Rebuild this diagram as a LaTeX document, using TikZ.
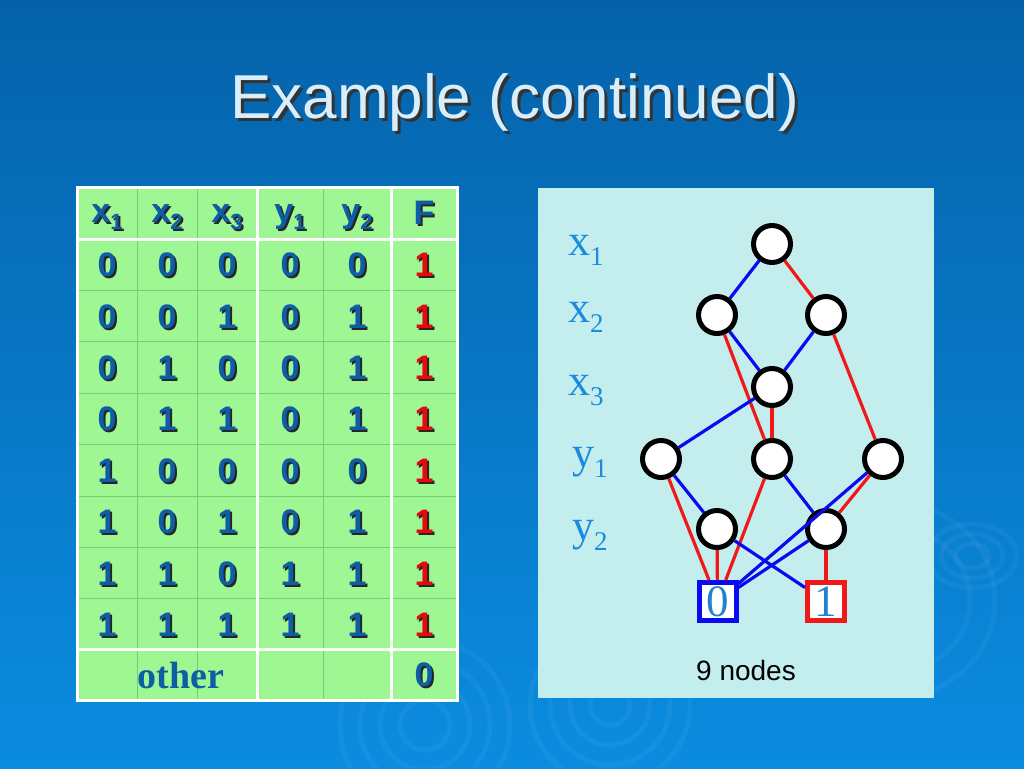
\documentclass[tikz,border=0pt]{standalone}
\usepackage{fontspec}
\setmainfont{Liberation Serif}
\newfontfamily\arialf{Liberation Sans}
\definecolor{bgtop}{HTML}{0562AA}
\definecolor{bgbot}{HTML}{0B8CE0}
\definecolor{tabgreen}{HTML}{9EF792}
\definecolor{gridgreen}{HTML}{74CC78}
\definecolor{tabblue}{HTML}{0E5EA6}
\definecolor{tabred}{HTML}{E80A0A}
\definecolor{panelcyan}{HTML}{C4EEEE}
\definecolor{lblblue}{HTML}{1A8CE0}
\definecolor{termtext}{HTML}{2282D2}
\definecolor{edgeblue}{HTML}{0A0AF0}
\definecolor{edgered}{HTML}{F01818}
\definecolor{titlecol}{HTML}{D8EEFA}
\tikzset{
  tabtext/.style={font=\arialf\bfseries\fontsize{34}{34}\selectfont, inner sep=0pt},
  bddnode/.style={circle, draw=black, line width=5pt, fill=white, minimum size=37pt, inner sep=0pt},
  termbox/.style={rectangle, line width=5pt, fill=white, minimum width=37pt, minimum height=38pt, inner sep=0pt, text=termtext, font=\fontsize{45}{45}\selectfont},
  lvl/.style={anchor=base west, inner sep=0pt, text=lblblue, font=\fontsize{44}{44}\selectfont},
  lo/.style={draw=edgeblue, line width=3.2pt},
  hi/.style={draw=edgered, line width=3.2pt},
  ripple/.style={draw=white, opacity=0.045, line width=5pt}
}
\newcommand\shcell[5]{%
  \node[tabtext, text=#4] (#1) at (#2,#3) {\rlap{\hspace{2pt}\raisebox{-2pt}{\color{black!85}#5}}#5};}
\newcommand\hsub[1]{\raisebox{-7pt}{\fontsize{22}{22}\selectfont #1}}
\begin{document}
\begin{tikzpicture}[x=1pt,y=-1pt]
\useasboundingbox (0,0) rectangle (1024,768);
\shade[top color=bgtop, bottom color=bgbot] (0,0) rectangle (1024,768);
% ripples
\foreach \r in {25,45,65,85} \draw[ripple] (425,725) circle (\r);
\foreach \r in {20,40,60,80} \draw[ripple] (610,705) circle (\r);
\foreach \r in {12,22,32} \draw[ripple] (972,556) ellipse ({\r*1.4} and \r);
\foreach \r in {70,95} \draw[ripple] (900,600) circle (\r);
% title
\node[anchor=base west, inner sep=0pt, text=titlecol, font=\arialf\fontsize{62}{62}\selectfont] (title) at (230,118) {\rlap{\hspace{3pt}\raisebox{-3pt}{\color{black!80}Example (continued)}}Example (continued)};
% table
\fill[tabgreen] (77,187) rectangle (457,700);
\foreach \xx in {137,197,323} \draw[gridgreen, line width=1pt] (\xx,187) -- (\xx,700);
\foreach \yy in {290.4,341.8,393.2,444.6,496,547.4,598.8} \draw[gridgreen, line width=1pt] (77,\yy) -- (457,\yy);
\foreach \xx in {257,391} \draw[white, line width=3pt] (\xx,187) -- (\xx,700);
\foreach \yy in {239,649} \draw[white, line width=3pt] (77,\yy) -- (457,\yy);
\draw[white, line width=3pt] (77,187) rectangle (457,700);
% header
\shcell{h1}{107}{218}{tabblue}{x\hsub{1}}
\shcell{h2}{167}{218}{tabblue}{x\hsub{2}}
\shcell{h3}{227}{218}{tabblue}{x\hsub{3}}
\shcell{h4}{290}{218}{tabblue}{y\hsub{1}}
\shcell{h5}{357}{218}{tabblue}{y\hsub{2}}
\shcell{h6}{424}{214}{tabblue}{F}
% body
\foreach \row [count=\i] in {{0,0,0,0,0},{0,0,1,0,1},{0,1,0,0,1},{0,1,1,0,1},{1,0,0,0,0},{1,0,1,0,1},{1,1,0,1,1},{1,1,1,1,1}}{
  \pgfmathsetmacro\cy{266+(\i-1)*51.4}
  \foreach \v [count=\j] in \row {
    \pgfmathsetmacro\cx{{107,167,227,290,357}[\j-1]}
    \shcell{c\i\j}{\cx}{\cy}{tabblue}{\v}
  }
  \shcell{f\i}{424}{\cy}{tabred}{1}
}
\node[anchor=base, inner sep=0pt, text=tabblue, font=\bfseries\fontsize{38}{38}\selectfont] (other) at (181,688) {other};
\shcell{f9}{424}{676}{tabblue}{0}
% BDD panel
\fill[panelcyan] (538,188) rectangle (934,698);
\node[lvl] (lx1) at (568,255) {x\raisebox{-10pt}{\fontsize{27}{27}\selectfont 1}};
\node[lvl] (lx2) at (568,322) {x\raisebox{-10pt}{\fontsize{27}{27}\selectfont 2}};
\node[lvl] (lx3) at (568,395) {x\raisebox{-10pt}{\fontsize{27}{27}\selectfont 3}};
\node[lvl] (ly1) at (572,467) {y\raisebox{-10pt}{\fontsize{27}{27}\selectfont 1}};
\node[lvl] (ly2) at (572,540) {y\raisebox{-10pt}{\fontsize{27}{27}\selectfont 2}};
\node[bddnode] (a) at (772,244) {};
\node[bddnode] (b1) at (717,315) {};
\node[bddnode] (b2) at (826,315) {};
\node[bddnode] (c) at (772,387) {};
\node[bddnode] (d1) at (661,459) {};
\node[bddnode] (d2) at (772,459) {};
\node[bddnode] (d3) at (883,459) {};
\node[bddnode] (e1) at (717,529) {};
\node[bddnode] (e2) at (826,529) {};
\node[termbox, draw=edgeblue] (t0) at (717.5,601.5) {0};
\node[termbox, draw=edgered] (t1) at (826,601.5) {1};
\draw[lo] (a) -- (b1);
\draw[hi] (a) -- (b2);
\draw[lo] (b1) -- (c);
\draw[hi] (b1) -- (d2);
\draw[lo] (b2) -- (c);
\draw[hi] (b2) -- (d3);
\draw[lo] (c) -- (d1);
\draw[hi] (c) -- (d2);
\draw[lo] (d1) -- (e1);
\draw[hi] (d1) -- (t0);
\draw[hi] (d2) -- (t0);
\draw[lo] (d2) -- (e2);
\draw[lo] (d3) -- (t0);
\draw[hi] (d3) -- (e2);
\draw[hi] (e1) -- (t0);
\draw[lo] (e1) -- (t1);
\draw[lo] (e2) -- (t0);
\draw[hi] (e2) -- (t1);
\node[anchor=base, inner sep=0pt, font=\arialf\fontsize{28}{28}\selectfont] (cnt) at (746,680) {9 nodes};
\end{tikzpicture}
\end{document}
